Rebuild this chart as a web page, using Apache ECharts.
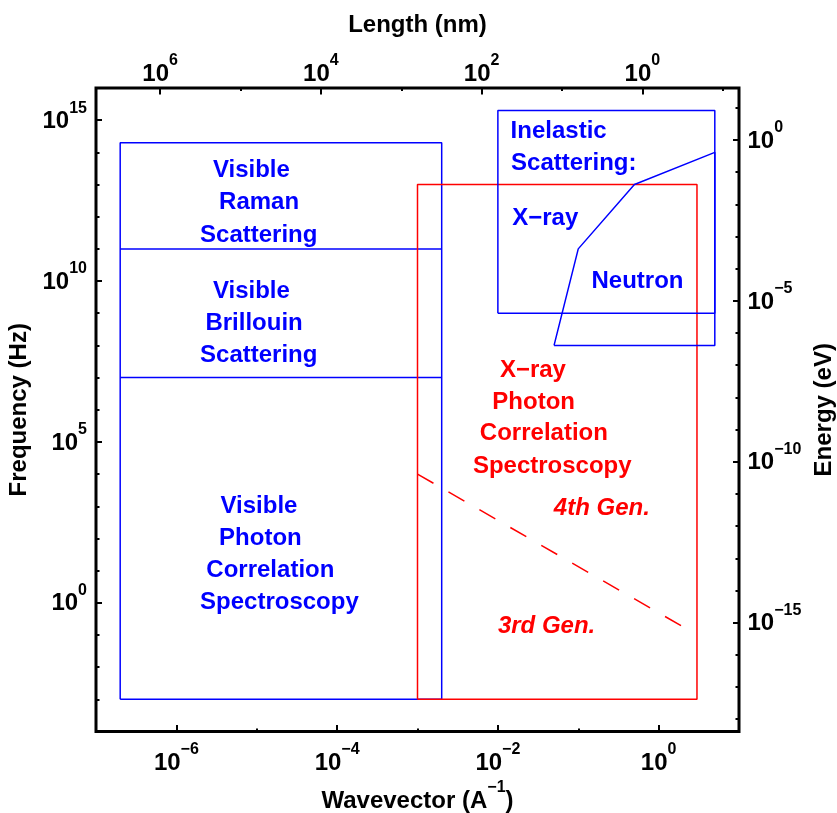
<!DOCTYPE html>
<html>
<head>
<meta charset="utf-8">
<script src="https://cdn.jsdelivr.net/npm/echarts@6/dist/echarts.min.js"></script>
<style>html,body{margin:0;padding:0;background:#fff}#chart{width:837px;height:813px}</style>
</head>
<body>
<div id="chart"></div>
<script>
const FONT = '"Liberation Sans", Arial, Helvetica, sans-serif';
const PLANCK_EV_S = 4.135667696e-15;     // E(eV) = h * f(Hz)
const LENGTH_NM_TIMES_Q = 0.2 * Math.PI;  // L(nm) = 2*pi / q(1/A) / 10

// axis ranges
const qRange = [1e-7, 10];
const fRange = [1e-4, 1e16];

// tick values
const qMajorTicks = [1e-6, 1e-4, 1e-2, 1];
const qMinorTicks = [1e-5, 1e-3, 1e-1];
const lengthMajorTicks = [1e6, 1e4, 1e2, 1];
const lengthMinorTicks = [1e5, 1e3, 1e1, 1e-1];
const fMajorTicks = [1, 1e5, 1e10, 1e15];
const fMinorTicks = [1e-3, 1e-2, 1e-1, 1e1, 1e2, 1e3, 1e4, 1e6, 1e7, 1e8, 1e9, 1e11, 1e12, 1e13, 1e14];
const eMajorTicks = [1e-15, 1e-10, 1e-5, 1];
const eMinorTicks = [1e-18, 1e-17, 1e-16, 1e-14, 1e-13, 1e-12, 1e-11, 1e-9, 1e-8, 1e-7, 1e-6, 1e-4, 1e-3, 1e-2, 1e-1, 1e1];

// regions (wavevector in 1/A, frequency in Hz)
const visibleQ = [2e-7, 2e-3];
const visibleF = [1e-3, 2e14];
const visibleDividerF = [1e11, 1e7];
const xpcsQ = [1e-3, 3];
const xpcsF = [1e-3, 1e13];
const genBoundaryQ = [1e-3, 1.93];
const genBoundaryF = [1e4, 0.19];
const xrayInelasticQ = [1e-2, 5];
const xrayInelasticF = [1e9, 2e15];
const neutronQ = [0.05, 0.1, 0.5, 5, 5, 0.05];
const neutronF = [1e8, 1e11, 1e13, 1e14, 1e8, 1e8];

// annotations (left edge, vertical middle)
const blueLabels = ['Visible', 'Raman', 'Scattering', 'Visible', 'Brillouin', 'Scattering',
  'Visible', 'Photon', 'Correlation', 'Spectroscopy', 'Inelastic', 'Scattering:', 'X\u2212ray', 'Neutron'];
const blueLabelQ = [2.85e-6, 3.4e-6, 1.97e-6, 2.85e-6, 2.3e-6, 1.97e-6,
  3.54e-6, 3.4e-6, 2.36e-6, 1.97e-6, 1.44e-2, 1.46e-2, 1.51e-2, 0.146];
const blueLabelF = [2.8e13, 2.7e12, 2.7e11, 4.7e9, 4.8e8, 4.8e7,
  1e3, 1e2, 1e1, 1, 4.4e14, 4.6e13, 8.9e11, 9.5e9];
const redLabels = ['X\u2212ray', 'Photon', 'Correlation', 'Spectroscopy'];
const redLabelQ = [1.06e-2, 8.54e-3, 5.97e-3, 4.89e-3];
const redLabelF = [1.72e7, 1.7e6, 1.78e5, 1.7e4];
const genLabels = ['4th Gen.', '3rd Gen.'];
const genLabelQ = [4.97e-2, 1e-2];
const genLabelF = [871, 0.182];

const BLUE = '#0000ff', RED = '#ff0000';

function powLabel(v) {
  const e = Math.round(Math.log10(v));
  return '{b|10}{s|' + (e < 0 ? '\u2212' + (-e) : String(e)) + '}';
}
const powRich = {
  b: {fontFamily: FONT, fontSize: 24, fontWeight: 'bold', color: '#000', lineHeight: 33, verticalAlign: 'bottom'},
  s: {fontFamily: FONT, fontSize: 16, fontWeight: 'bold', color: '#000', lineHeight: 17, verticalAlign: 'top'}
};
const nameStyle = {fontFamily: FONT, fontSize: 24, fontWeight: 'bold', color: '#000', lineHeight: 25};

function axis(extra) {
  return Object.assign({
    type: 'log', logBase: 10, gridIndex: 0, silent: true,
    axisLine: {show: false},
    splitLine: {show: false}, minorTick: {show: false}, minorSplitLine: {show: false}
  }, extra);
}
function ticks(values, len) {
  return {show: true, inside: true, length: len, customValues: values, lineStyle: {color: '#000', width: 2}};
}
function labels(values, margin, padding) {
  return {show: true, customValues: values, formatter: powLabel, rich: powRich, margin: margin,
          padding: padding || [0, 0, 0, 0], hideOverlap: false, showMinLabel: true, showMaxLabel: true};
}
const noLabels = {show: false};

const lenRange = [LENGTH_NM_TIMES_Q / qRange[1], LENGTH_NM_TIMES_Q / qRange[0]];
const eRange = [PLANCK_EV_S * fRange[0], PLANCK_EV_S * fRange[1]];

function rectPath(q, f) {
  return [[q[0], f[0]], [q[1], f[0]], [q[1], f[1]], [q[0], f[1]], [q[0], f[0]]];
}
function zip(a, b) { return a.map((v, i) => [v, b[i]]); }
function lineSeries(data, color, dashed) {
  return {type: 'line', xAxisIndex: 0, yAxisIndex: 0, data: data, symbol: 'none', silent: true,
          animation: false, z: 3,
          lineStyle: {color: color, width: 1.5, opacity: 1, type: dashed ? [18.4, 17.3] : 'solid'}};
}
function textSeries(names, qs, fs, color, italic) {
  return {type: 'scatter', xAxisIndex: 0, yAxisIndex: 0, silent: true, animation: false, z: 5,
          symbolSize: 0, itemStyle: {color: 'transparent', opacity: 1},
          data: names.map((t, i) => ({name: t, value: [qs[i], fs[i]]})),
          label: {show: true, position: 'right', distance: 0, formatter: '{b}', color: color, opacity: 1,
                  fontFamily: FONT, fontSize: 24, fontWeight: 'bold', fontStyle: italic ? 'italic' : 'normal'}};
}

const series = [
  lineSeries(rectPath(visibleQ, visibleF), BLUE),
  ...visibleDividerF.map(f => lineSeries([[visibleQ[0], f], [visibleQ[1], f]], BLUE)),
  lineSeries(rectPath(xpcsQ, xpcsF), RED),
  lineSeries(zip(genBoundaryQ, genBoundaryF), RED, true),
  lineSeries(rectPath(xrayInelasticQ, xrayInelasticF), BLUE),
  lineSeries(zip(neutronQ, neutronF), BLUE),
  textSeries(blueLabels, blueLabelQ, blueLabelF, BLUE, false),
  textSeries(redLabels, redLabelQ, redLabelF, RED, false),
  textSeries(genLabels, genLabelQ, genLabelF, RED, true)
];

const chart = echarts.init(document.getElementById('chart'), null, {renderer: 'canvas'});
chart.setOption({
  animation: false,
  backgroundColor: '#fff',
  grid: {left: 96, top: 88, width: 643, height: 643.5, show: true, borderColor: '#000', borderWidth: 3,
         backgroundColor: 'transparent', containLabel: false, outerBoundsMode: 'none'},
  xAxis: [
    axis({position: 'bottom', min: qRange[0], max: qRange[1],
          name: '{n|Wavevector (A}{s|\u22121}{n|)}', nameLocation: 'middle', nameGap: 47,
          nameTextStyle: {rich: {
            n: {fontFamily: FONT, fontSize: 24, fontWeight: 'bold', color: '#000', lineHeight: 33, verticalAlign: 'bottom'},
            s: {fontFamily: FONT, fontSize: 16, fontWeight: 'bold', color: '#000', lineHeight: 17, verticalAlign: 'top'}}},
          axisTick: ticks(qMajorTicks, 6.5), axisLabel: labels(qMajorTicks, 10.5)}),
    axis({position: 'bottom', min: qRange[0], max: qRange[1],
          axisTick: ticks(qMinorTicks, 3), axisLabel: noLabels}),
    axis({position: 'top', min: lenRange[0], max: lenRange[1], inverse: true,
          name: 'Length (nm)', nameLocation: 'middle', nameGap: 50, nameTextStyle: nameStyle,
          axisTick: ticks(lengthMajorTicks, 6.5), axisLabel: labels(lengthMajorTicks, 2)}),
    axis({position: 'top', min: lenRange[0], max: lenRange[1], inverse: true,
          axisTick: ticks(lengthMinorTicks, 3), axisLabel: noLabels})
  ],
  yAxis: [
    axis({position: 'left', min: fRange[0], max: fRange[1],
          name: 'Frequency (Hz)', nameLocation: 'middle', nameRotate: 90, nameGap: 61, nameTextStyle: nameStyle,
          axisTick: ticks(fMajorTicks, 6), axisLabel: labels(fMajorTicks, 9, [0, 0, 7, 0])}),
    axis({position: 'left', min: fRange[0], max: fRange[1],
          axisTick: ticks(fMinorTicks, 3.5), axisLabel: noLabels}),
    axis({position: 'right', min: eRange[0], max: eRange[1],
          name: 'Energy (eV)', nameLocation: 'middle', nameRotate: 90, nameGap: 73, nameTextStyle: nameStyle,
          axisTick: ticks(eMajorTicks, 6), axisLabel: labels(eMajorTicks, 8.5, [0, 0, 7, 0])}),
    axis({position: 'right', min: eRange[0], max: eRange[1],
          axisTick: ticks(eMinorTicks, 3.5), axisLabel: noLabels})
  ],
  series: series
});
</script>
</body>
</html>
